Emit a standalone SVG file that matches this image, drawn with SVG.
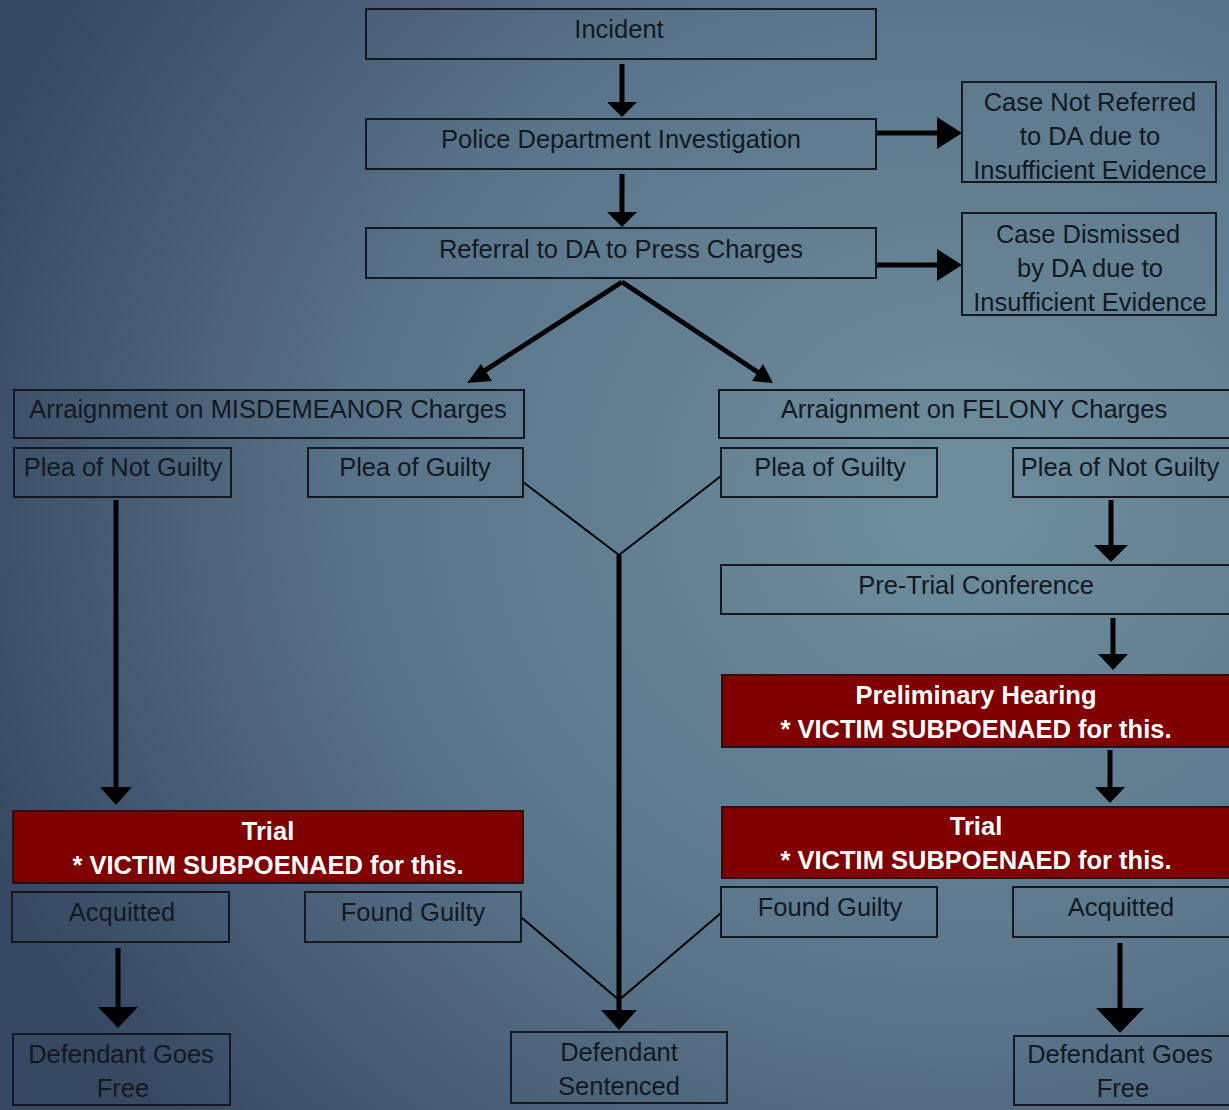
<svg xmlns="http://www.w3.org/2000/svg" width="1229" height="1110" viewBox="0 0 1229 1110">
<defs>
<radialGradient id="bg" cx="0.78" cy="0.45" r="0.85" gradientUnits="objectBoundingBox">
<stop offset="0" stop-color="#6e8e9d"/>
<stop offset="0.55" stop-color="#5a758b"/>
<stop offset="1" stop-color="#374862"/>
</radialGradient>
<style>
.box{fill:none;stroke:#15191f;stroke-width:2}
.red{fill:#800000;stroke:#2a1010;stroke-width:2}
.t{font-family:"Liberation Sans",Arial,sans-serif;font-size:25.5px;fill:#141820;text-anchor:middle}
.w{font-family:"Liberation Sans",Arial,sans-serif;font-size:25.5px;font-weight:bold;fill:#fff;text-anchor:middle}
.thick{stroke:#000;stroke-width:5;fill:none}
.thin{stroke:#000;stroke-width:2;fill:none}
.head{fill:#000}
</style>
</defs>
<rect x="0" y="0" width="1229" height="1110" fill="url(#bg)"/>

<g id="connectors">
<line class="thick" x1="622" y1="64" x2="622" y2="104"/><path class="head" d="M607,102 L637,102 L622,117 z"/>
<line class="thick" x1="622" y1="174" x2="622" y2="214"/><path class="head" d="M607,212 L637,212 L622,227 z"/>
<line class="thick" x1="877" y1="133" x2="940" y2="133"/><path class="head" d="M937,117 L962,133 L937,149 z"/>
<line class="thick" x1="877" y1="265" x2="940" y2="265"/><path class="head" d="M937,249 L962,265 L937,281 z"/>
<line class="thick" x1="622" y1="282" x2="478" y2="375"/><path class="head" d="M481,364 L467,383 L492,381 z"/>
<line class="thick" x1="622" y1="282" x2="762" y2="375"/><path class="head" d="M752,381 L773,383 L763,364 z"/>
<line class="thick" x1="116" y1="500" x2="116" y2="790"/><path class="head" d="M100,787 L132,787 L116,805 z"/>
<line class="thin" x1="523" y1="482" x2="619" y2="555"/>
<line class="thin" x1="721" y1="476" x2="619" y2="555"/>
<line class="thick" x1="619" y1="555" x2="619" y2="1015"/><path class="head" d="M601,1010 L637,1010 L619,1030 z"/>
<line class="thick" x1="1111" y1="500" x2="1111" y2="548"/><path class="head" d="M1094,545 L1128,545 L1111,562 z"/>
<line class="thick" x1="1113" y1="618" x2="1113" y2="657"/><path class="head" d="M1098,654 L1128,654 L1113,670 z"/>
<line class="thick" x1="1110" y1="750" x2="1110" y2="790"/><path class="head" d="M1095,787 L1125,787 L1110,803 z"/>
<line class="thin" x1="522" y1="918" x2="619" y2="1000"/>
<line class="thin" x1="721" y1="913" x2="619" y2="1000"/>
<line class="thick" x1="118" y1="948" x2="118" y2="1010"/><path class="head" d="M98,1007 L138,1007 L118,1028 z"/>
<line class="thick" x1="1120" y1="943" x2="1120" y2="1012"/><path class="head" d="M1096,1008 L1144,1008 L1120,1033 z"/>
</g>

<g id="incident"><rect class="box" x="366" y="9" width="510" height="50"/><text class="t" x="619" y="38">Incident</text></g>
<g id="police"><rect class="box" x="366" y="119" width="510" height="50"/><text class="t" x="621" y="148">Police Department Investigation</text></g>
<g id="referral"><rect class="box" x="366" y="228" width="510" height="50"/><text class="t" x="621" y="258">Referral to DA to Press Charges</text></g>
<g id="not-referred"><rect class="box" x="962" y="82" width="254" height="100"/><text class="t" x="1090" y="111">Case Not Referred</text><text class="t" x="1090" y="145">to DA due to</text><text class="t" x="1090" y="179">Insufficient Evidence</text></g>
<g id="dismissed"><rect class="box" x="962" y="213" width="254" height="102"/><text class="t" x="1088" y="243">Case Dismissed</text><text class="t" x="1090" y="277">by DA due to</text><text class="t" x="1090" y="311">Insufficient Evidence</text></g>

<g id="misdemeanor"><rect class="box" x="14" y="390" width="510" height="48"/><text class="t" x="268" y="418">Arraignment on MISDEMEANOR Charges</text></g>
<g id="felony"><rect class="box" x="719" y="390" width="512" height="48"/><text class="t" x="974" y="418">Arraignment on FELONY Charges</text></g>
<g id="m-not-guilty"><rect class="box" x="14" y="448" width="217" height="49"/><text class="t" x="123" y="476">Plea of Not Guilty</text></g>
<g id="m-guilty"><rect class="box" x="308" y="448" width="215" height="49"/><text class="t" x="415" y="476">Plea of Guilty</text></g>
<g id="f-guilty"><rect class="box" x="721" y="448" width="216" height="49"/><text class="t" x="830" y="476">Plea of Guilty</text></g>
<g id="f-not-guilty"><rect class="box" x="1013" y="448" width="218" height="49"/><text class="t" x="1120" y="476">Plea of Not Guilty</text></g>
<g id="pretrial"><rect class="box" x="721" y="565" width="510" height="49"/><text class="t" x="976" y="594">Pre-Trial Conference</text></g>
<g id="prelim"><rect class="red" x="722" y="675" width="509" height="72"/><text class="w" x="976" y="704">Preliminary Hearing</text><text class="w" x="976" y="738">* VICTIM SUBPOENAED for this.</text></g>
<g id="f-trial"><rect class="red" x="722" y="807" width="509" height="71"/><text class="w" x="976" y="835">Trial</text><text class="w" x="976" y="869">* VICTIM SUBPOENAED for this.</text></g>
<g id="m-trial"><rect class="red" x="13" y="811" width="510" height="72"/><text class="w" x="268" y="840">Trial</text><text class="w" x="268" y="874">* VICTIM SUBPOENAED for this.</text></g>
<g id="m-acquitted"><rect class="box" x="12" y="892" width="217" height="50"/><text class="t" x="122" y="921">Acquitted</text></g>
<g id="m-found-guilty"><rect class="box" x="305" y="892" width="216" height="50"/><text class="t" x="413" y="921">Found Guilty</text></g>
<g id="f-found-guilty"><rect class="box" x="721" y="887" width="216" height="50"/><text class="t" x="830" y="916">Found Guilty</text></g>
<g id="f-acquitted"><rect class="box" x="1013" y="887" width="218" height="50"/><text class="t" x="1121" y="916">Acquitted</text></g>
<g id="m-free"><rect class="box" x="13" y="1034" width="217" height="71"/><text class="t" x="121" y="1063">Defendant Goes</text><text class="t" x="123" y="1097">Free</text></g>
<g id="sentenced"><rect class="box" x="511" y="1032" width="216" height="71"/><text class="t" x="619" y="1061">Defendant</text><text class="t" x="619" y="1095">Sentenced</text></g>
<g id="f-free"><rect class="box" x="1014" y="1036" width="217" height="69"/><text class="t" x="1120" y="1063">Defendant Goes</text><text class="t" x="1123" y="1097">Free</text></g>
</svg>
